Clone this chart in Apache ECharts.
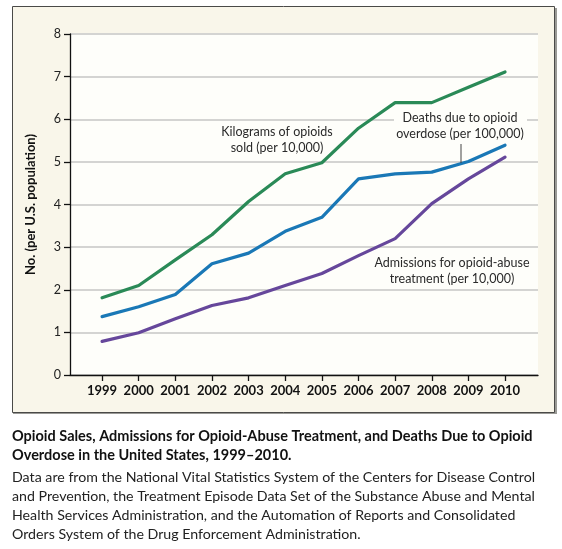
<!DOCTYPE html>
<html>
<head>
<meta charset="utf-8">
<script src="https://cdn.jsdelivr.net/npm/echarts@6/dist/echarts.min.js"></script>
<style>
html,body{margin:0;padding:0;background:#ffffff;}
#chart{width:562px;height:549px;}
</style>
</head>
<body>
<div id="chart"></div>
<script>
var years = [1999, 2000, 2001, 2002, 2003, 2004, 2005, 2006, 2007, 2008, 2009, 2010];
var kilogramsSold = [1.81, 2.10, 2.70, 3.29, 4.07, 4.72, 4.98, 5.79, 6.39, 6.39, 6.75, 7.11];
var overdoseDeaths = [1.37, 1.60, 1.89, 2.61, 2.86, 3.37, 3.70, 4.60, 4.72, 4.76, 5.01, 5.39];
var treatmentAdmissions = [0.79, 0.99, 1.32, 1.63, 1.81, 2.10, 2.38, 2.80, 3.20, 4.02, 4.60, 5.11];
var yTicks = [0, 1, 2, 3, 4, 5, 6, 7, 8];

var seriesNames = ['Kilograms of opioids sold (per 10,000)', 'Deaths due to opioid overdose (per 100,000)', 'Admissions for opioid-abuse treatment (per 10,000)'];
var captionTitle = ['Opioid Sales, Admissions for Opioid-Abuse Treatment, and Deaths Due to Opioid', 'Overdose in the United States, 1999\u20132010.'];
var captionBody = ['Data are from the National Vital Statistics System of the Centers for Disease Control',
  'and Prevention, the Treatment Episode Data Set of the Substance Abuse and Mental',
  'Health Services Administration, and the Automation of Reports and Consolidated',
  'Orders System of the Drug Enforcement Administration.'];

var FONT = 'Lato, "Liberation Sans", sans-serif';
var PLOTBG = '#fefefa';
function pairs(vals){ return years.map(function(y,i){ return [y, vals[i]]; }); }

var chart = echarts.init(document.getElementById('chart'), null, {renderer:'canvas'});
var lineStyleBase = {width: 3.2, cap: 'round', join: 'round'};
var option = {
  backgroundColor: '#ffffff',
  animation: false,
  textStyle: {fontFamily: FONT},
  grid: {left: 70, top: 34, right: 24, bottom: 174, show: true, backgroundColor: PLOTBG, borderWidth: 0, containLabel: false},
  xAxis: {
    type: 'value', min: 1998.125, max: 2010.9,
    splitLine: {show: false},
    axisLine: {show: true, lineStyle: {color: '#111', width: 1.3}},
    axisTick: {show: true, customValues: years, length: 6, lineStyle: {color: '#111', width: 1.3}},
    axisLabel: {customValues: years, margin: 9, fontFamily: FONT, fontWeight: 'bold', fontSize: 13, color: '#111', formatter: function(v){ return String(Math.round(v)); }}
  },
  yAxis: {
    type: 'value', min: 0, max: 8, interval: 1,
    name: 'No. (per U.S. population)', nameLocation: 'middle', nameGap: 33,
    nameTextStyle: {fontFamily: FONT, fontWeight: 'bold', fontSize: 13, color: '#111'},
    axisLine: {show: true, lineStyle: {color: '#111', width: 1.3}},
    axisTick: {show: true, length: 6, lineStyle: {color: '#111', width: 1.3}},
    axisLabel: {margin: 9, fontFamily: FONT, fontSize: 12.5, color: '#222', customValues: yTicks},
    splitLine: {show: true, lineStyle: {color: '#d4d4d2', width: 2}}
  },
  series: [
    {name: seriesNames[0], type: 'line', data: pairs(kilogramsSold), showSymbol: false, symbol: 'none', z: 3,
      lineStyle: Object.assign({color: '#2a8a57'}, lineStyleBase), itemStyle: {color: '#2a8a57'}},
    {name: seriesNames[1], type: 'line', data: pairs(overdoseDeaths), showSymbol: false, symbol: 'none', z: 3,
      lineStyle: Object.assign({color: '#1a78b6'}, lineStyleBase), itemStyle: {color: '#1a78b6'}},
    {name: seriesNames[2], type: 'line', data: pairs(treatmentAdmissions), showSymbol: false, symbol: 'none', z: 3,
      lineStyle: Object.assign({color: '#66479b'}, lineStyleBase), itemStyle: {color: '#66479b'}}
  ],
  graphic: []
};
chart.setOption(option);

var g = [];
// panel
g.push({type:'rect', z:-10, shape:{x:13, y:8, width:544, height:406}, style:{fill:'#9a9a96'}, silent:true});
g.push({type:'rect', z:-9, shape:{x:12.5, y:6.5, width:542, height:406}, style:{fill:'#f9f6ea', stroke:'#4a4a48', lineWidth:1}, silent:true});
// annotations
var ann = {fontFamily: FONT, fontSize: 12.5, fill: '#2a2a2a', align: 'center', lineHeight: 16};
g.push({type:'text', z:50, x:277, y:124, style:Object.assign({text:'Kilograms of opioids\nsold (per 10,000)'}, ann)});
g.push({type:'rect', z:49, shape:{x:394, y:112, width:133, height:14}, style:{fill:PLOTBG}});
g.push({type:'text', z:50, x:460, y:110, style:Object.assign({text:'Deaths due to opioid\noverdose (per 100,000)'}, ann)});
g.push({type:'line', z:50, shape:{x1:461, y1:144, x2:461, y2:163}, style:{stroke:'#444', lineWidth:1}});
g.push({type:'text', z:50, x:452, y:255, style:Object.assign({text:'Admissions for opioid-abuse\ntreatment (per 10,000)'}, ann)});
// caption
for (var i=0;i<captionTitle.length;i++){
  g.push({type:'text', x:12, y:429+i*19, style:{text:captionTitle[i], fontFamily:FONT, fontWeight:'bold', fontSize:14.5, fill:'#111'}});
}
for (var j=0;j<captionBody.length;j++){
  g.push({type:'text', x:12, y:470+j*19, style:{text:captionBody[j], fontFamily:FONT, fontSize:14.2, fill:'#222'}});
}
chart.setOption({graphic: g});
</script>
</body>
</html>
